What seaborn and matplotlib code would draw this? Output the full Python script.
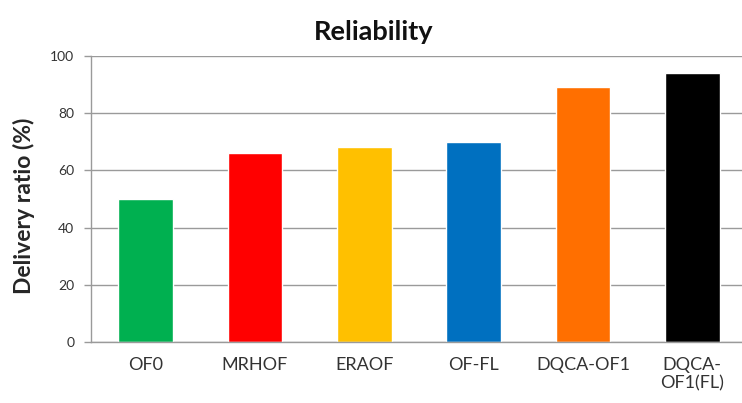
import matplotlib
matplotlib.use("Agg")
import matplotlib.pyplot as plt
import seaborn as sns
import pandas as pd

categories = ["OF0", "MRHOF", "ERAOF", "OF-FL", "DQCA-OF1", "DQCA-\nOF1(FL)"]
delivery_ratio = [50, 66, 68, 70, 89, 94]
colors = ["#00B050", "#FF0000", "#FFC000", "#0070C0", "#FF6F00", "#000000"]
y_ticks = [0, 20, 40, 60, 80, 100]

sns.set_theme(style="white")
plt.rcParams["font.family"] = ["Lato", "DejaVu Sans"]

df = pd.DataFrame({"protocol": categories, "ratio": delivery_ratio})

fig = plt.figure(figsize=(7.42, 4.03), dpi=100)
ax = fig.add_axes([0.1226, 0.1514, 0.884, 0.7097])

sns.barplot(data=df, x="protocol", y="ratio", hue="protocol",
            palette=colors, width=0.5, legend=False, ax=ax, saturation=1)

ax.set_ylim(0, 100)
ax.set_xlim(-0.5, len(categories) - 0.5)
ax.set_yticks(y_ticks)
ax.yaxis.grid(True, color="#9a9a9a", linewidth=1.0)
ax.set_axisbelow(True)

for side in ["top", "right"]:
    ax.spines[side].set_visible(False)
for side in ["left", "bottom"]:
    ax.spines[side].set_color("#9a9a9a")
    ax.spines[side].set_linewidth(1.0)

# category separators on the x axis
ax.set_xticks([i - 0.5 for i in range(len(categories) + 1)], minor=True)
ax.tick_params(axis="x", which="minor", length=5, color="#9a9a9a", width=1, direction="out")
ax.tick_params(axis="x", which="major", length=0, pad=11, labelsize=13, labelcolor="#333333")
ax.tick_params(axis="y", which="major", length=5, color="#9a9a9a", width=1, direction="out",
               pad=7, labelsize=10, labelcolor="#333333", left=True)
for lbl in ax.get_xticklabels():
    lbl.set_linespacing(1.15)

ax.set_xlabel("")
ax.set_ylabel("Delivery ratio (%)", fontsize=16.5, fontweight="bold")
ax.yaxis.set_label_coords(-0.086, 0.475)
fig.text(0.503, 0.92, "Reliability", ha="center", va="center",
         fontsize=19.5, fontweight="bold", color="#111111")

fig.savefig("out.png", dpi=100)
